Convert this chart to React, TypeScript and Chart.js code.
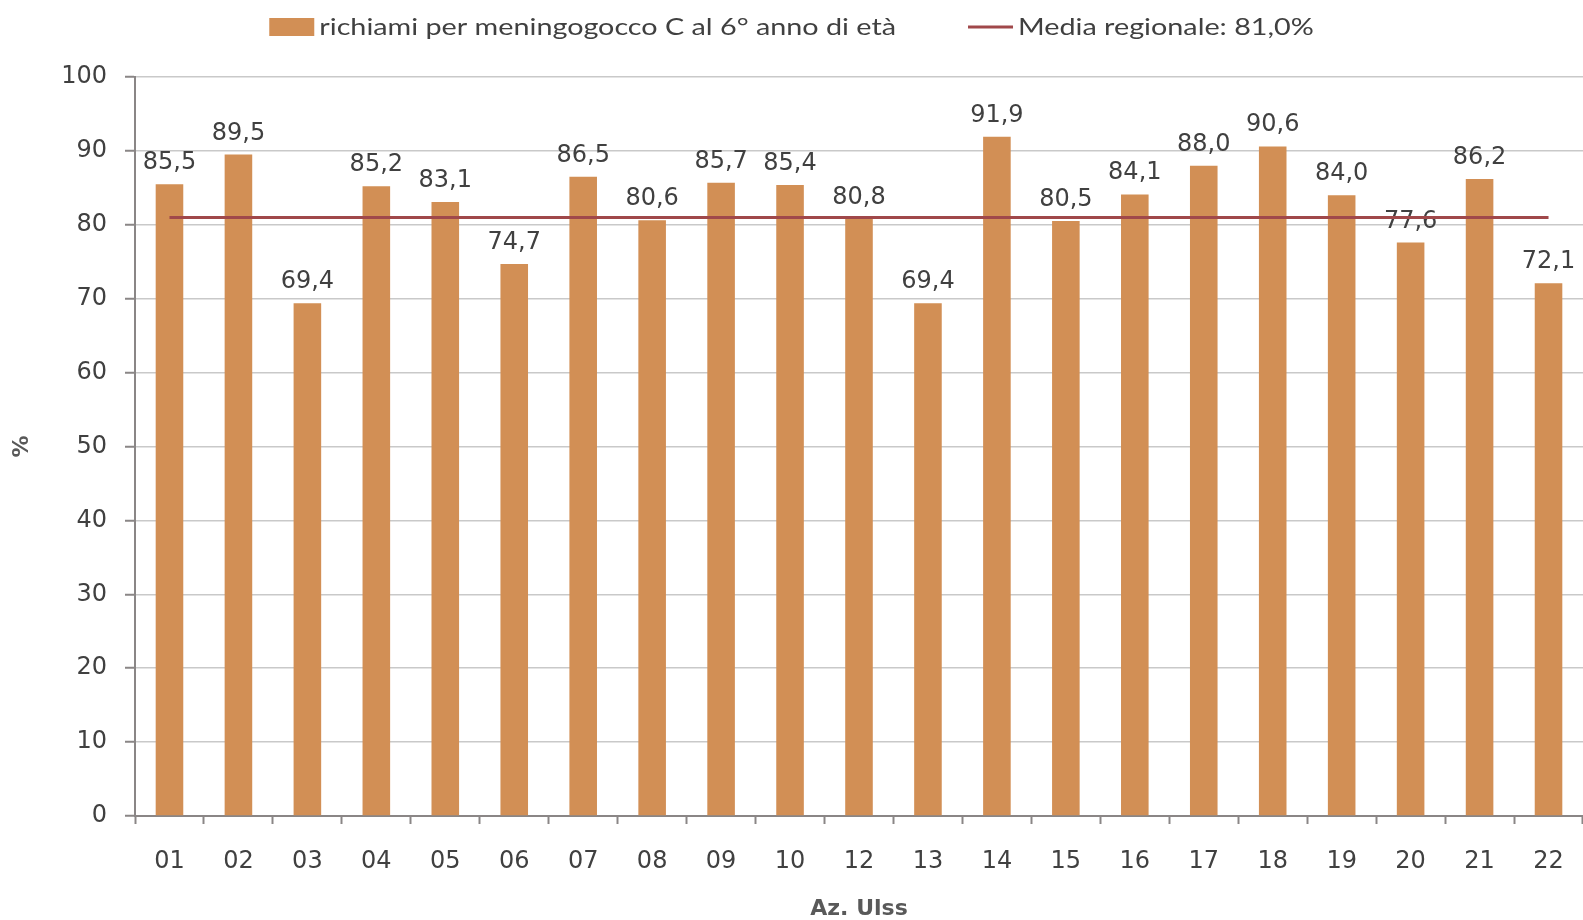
import React, { useEffect, useRef } from "react";
import { Chart, registerables } from "chart.js";

Chart.register(...registerables);

// ---------- data ----------
const categories = ["01", "02", "03", "04", "05", "06", "07", "08", "09", "10", "12", "13", "14", "15", "16", "17", "18", "19", "20", "21", "22"];
const coverage = [85.5, 89.5, 69.4, 85.2, 83.1, 74.7, 86.5, 80.6, 85.7, 85.4, 80.8, 69.4, 91.9, 80.5, 84.1, 88.0, 90.6, 84.0, 77.6, 86.2, 72.1];
const regionalMean = 81.0;
const meanLine = categories.map(() => regionalMean);
const yMin = 0;
const yMax = 100;
const yStep = 10;
const seriesLabel = "richiami per meningogocco C al 6° anno di età";
const meanLabel = "Media regionale: 81,0%";
const xTitle = "Az. Ulss";
const yTitle = "%";

// ---------- styles ----------
const W = 1583;
const H = 920;
const BAR = "#D28F55";
const LINE = "#A0484A";
const AXIS = "#8A8686";
const GRID = "#C9C9C9";
const TEXT = "#404040";
const NUM_FONT = "'DejaVu Sans', sans-serif";
const LEG_FONT = "Lato, 'Open Sans', sans-serif";
const LEG_STRETCH = 1.25;

const fmt = (v: number) => v.toFixed(1).replace(".", ",");

const valueLabels = {
  id: "valueLabels",
  afterDatasetDraw(chart: any, args: any) {
    if (args.index !== 0) return;
    const ctx = chart.ctx;
    const ds = chart.data.datasets[0];
    ctx.save();
    ctx.font = `24px ${NUM_FONT}`;
    ctx.fillStyle = TEXT;
    ctx.textAlign = "center";
    ctx.textBaseline = "alphabetic";
    args.meta.data.forEach((el: any, i: number) => {
      ctx.fillText(fmt(ds.data[i] as number), el.x, el.y - 15);
    });
    ctx.restore();
  },
};

const topLegend = {
  id: "topLegend",
  afterDraw(chart: any) {
    const ctx = chart.ctx;
    const dsBar = chart.data.datasets[0];
    const dsLine = chart.data.datasets[1];
    ctx.save();
    ctx.font = `23px ${LEG_FONT}`;
    const w1 = ctx.measureText(dsBar.label).width * LEG_STRETCH;
    const w2 = ctx.measureText(dsLine.label).width * LEG_STRETCH;
    const boxW = 45;
    const gapText = 5;
    const gapItems = 72;
    const total = boxW + gapText + w1 + gapItems + boxW + gapText + w2;
    let x = (chart.width - total) / 2;
    const yc = 27;
    ctx.fillStyle = dsBar.backgroundColor;
    ctx.fillRect(x, yc - 9, boxW, 18);
    x += boxW + gapText;
    ctx.fillStyle = TEXT;
    ctx.textBaseline = "middle";
    ctx.textAlign = "left";
    const drawText = (t: string, tx: number) => {
      ctx.save();
      ctx.translate(tx, yc + 1);
      ctx.scale(LEG_STRETCH, 1);
      ctx.fillText(t, 0, 0);
      ctx.restore();
    };
    drawText(dsBar.label, x);
    x += w1 + gapItems;
    ctx.strokeStyle = dsLine.borderColor;
    ctx.lineWidth = 3;
    ctx.beginPath();
    ctx.moveTo(x, yc);
    ctx.lineTo(x + boxW, yc);
    ctx.stroke();
    x += boxW + gapText;
    drawText(dsLine.label, x);
    ctx.restore();
  },
};

export default function App() {
  const ref = useRef<HTMLCanvasElement | null>(null);

  useEffect(() => {
    if (!ref.current) return;
    const chart = new Chart(ref.current, {
      type: "bar",
      data: {
        labels: categories,
        datasets: [
          {
            type: "bar",
            label: seriesLabel,
            data: coverage,
            backgroundColor: BAR,
            borderWidth: 0,
            categoryPercentage: 1,
            barPercentage: 0.4,
            order: 1,
          },
          {
            type: "line",
            label: meanLabel,
            data: meanLine,
            borderColor: LINE,
            borderWidth: 3,
            pointRadius: 0,
            fill: false,
            order: 0,
          } as any,
        ],
      },
      options: {
        responsive: false,
        animation: false,
        devicePixelRatio: 1,
        layout: { padding: { top: 77, left: 0, right: 0, bottom: 0 } },
        plugins: {
          legend: { display: false },
          tooltip: { enabled: false },
        },
        scales: {
          x: {
            offset: true,
            grid: {
              display: true,
              drawOnChartArea: false,
              offset: true,
              tickLength: 8,
              tickColor: AXIS,
              tickWidth: 2,
            },
            border: { color: AXIS, width: 2 },
            ticks: {
              font: { family: NUM_FONT, size: 24, lineHeight: 1.667 },
              color: TEXT,
              padding: 18,
              maxRotation: 0,
              autoSkip: false,
            },
            title: {
              display: true,
              text: xTitle,
              color: "#595959",
              font: { family: NUM_FONT, size: 22, weight: "bold", lineHeight: 1 },
              padding: { top: -2, bottom: 0 },
            },
          },
          y: {
            min: yMin,
            max: yMax,
            ticks: {
              stepSize: yStep,
              font: { family: NUM_FONT, size: 24 },
              color: TEXT,
              padding: 18,
            },
            grid: {
              color: GRID,
              lineWidth: 1.5,
              tickLength: 10,
              tickColor: AXIS,
              tickWidth: 2,
            },
            border: { color: AXIS, width: 2 },
            title: {
              display: true,
              text: yTitle,
              color: "#595959",
              font: { family: NUM_FONT, size: 22, weight: "bold", lineHeight: 1 },
              padding: { top: 11, bottom: 0 },
            },
            afterFit: (s: any) => {
              s.width = 135;
            },
          },
        },
      } as any,
      plugins: [valueLabels, topLegend],
    });
    return () => chart.destroy();
  }, []);

  return (
    <div style={{ position: "fixed", left: 0, top: 0, width: W, height: H, background: "#fff" }}>
      <canvas ref={ref} width={W} height={H} style={{ display: "block", width: W, height: H }} />
    </div>
  );
}
